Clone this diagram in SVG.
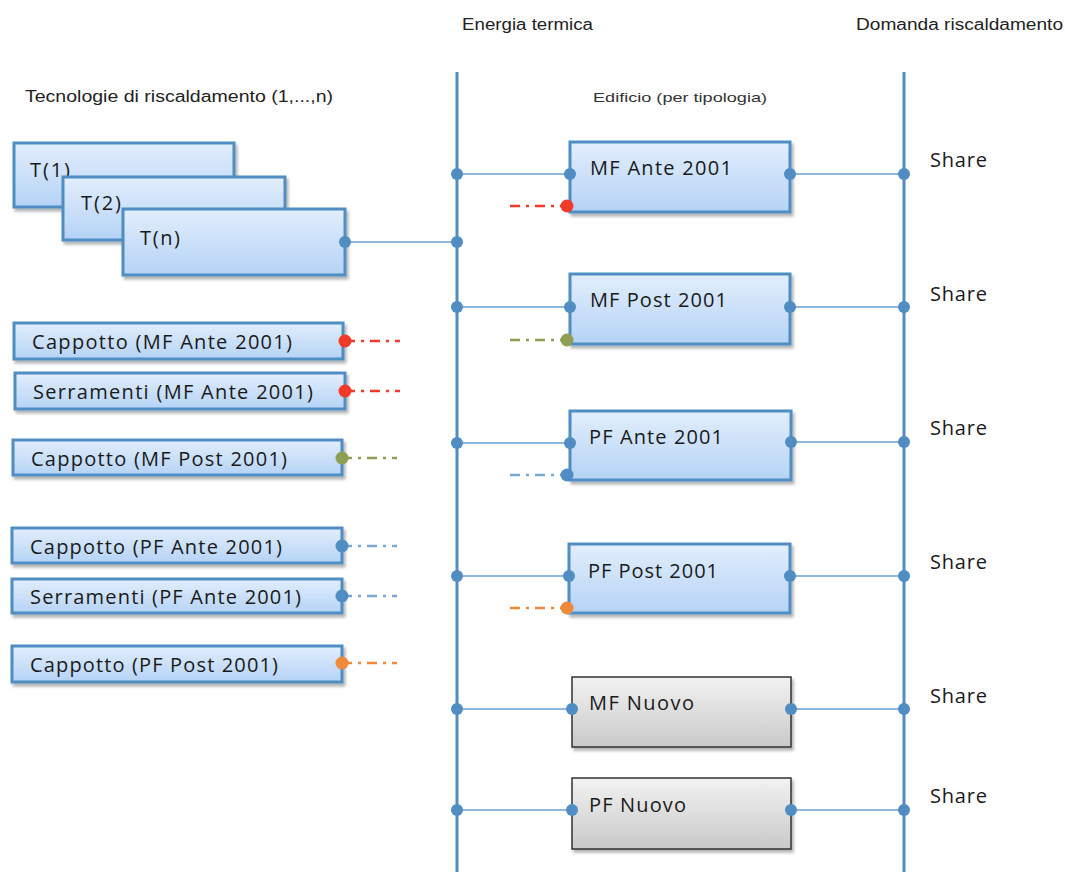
<svg xmlns="http://www.w3.org/2000/svg" width="1065" height="872" viewBox="0 0 1065 872">
<defs>
<linearGradient id="gb" x1="0" y1="0" x2="0" y2="1"><stop offset="0" stop-color="#e2eefc"/><stop offset="1" stop-color="#b5d3f6"/></linearGradient>
<linearGradient id="gg" x1="0" y1="0" x2="0" y2="1"><stop offset="0" stop-color="#f2f2f2"/><stop offset="1" stop-color="#c9c9c9"/></linearGradient>
<filter id="sh" x="-5%" y="-10%" width="115%" height="130%"><feDropShadow dx="2" dy="3" stdDeviation="1.5" flood-color="#000" flood-opacity="0.3"/></filter>
</defs>
<style>
.bx{fill:url(#gb);stroke:#4f8dc2;stroke-width:3;filter:url(#sh)}
.gx{fill:url(#gg);stroke:#333;stroke-width:1.5;filter:url(#sh)}
.t{font-family:"Open Sans","Liberation Sans",sans-serif;font-size:20px;fill:#1a1a1a}
.h{font-family:"Liberation Sans",sans-serif;font-size:16px;fill:#222}
.hs{font-family:"Liberation Sans",sans-serif;font-size:13px;fill:#333}
.bus{stroke:#4f8dc2;stroke-width:3;fill:none}
.ln{stroke:#8fb7db;stroke-width:2;fill:none}
.p{fill:#4f8dc2}
.dd{stroke-width:2.5;fill:none;stroke-dasharray:10 6 3 6}
</style>
<g id="labels">
<text class="h" x="462" y="30" textLength="131" lengthAdjust="spacingAndGlyphs">Energia termica</text>
<text class="h" x="856" y="30" textLength="207" lengthAdjust="spacingAndGlyphs">Domanda riscaldamento</text>
<text class="h" x="25" y="102" textLength="308" lengthAdjust="spacingAndGlyphs">Tecnologie di riscaldamento (1,...,n)</text>
<text class="hs" x="593" y="102" textLength="174" lengthAdjust="spacingAndGlyphs">Edificio (per tipologia)</text>
</g>
<g id="connectors">
<line class="bus" x1="457" y1="72" x2="457" y2="872"/>
<line class="bus" x1="904" y1="72" x2="904" y2="872"/>
<line class="ln" x1="345" y1="242" x2="457" y2="242"/>
<line class="ln" x1="457" y1="174" x2="570" y2="174"/><line class="ln" x1="790" y1="174" x2="904" y2="174"/>
<line class="ln" x1="457" y1="307" x2="570" y2="307"/><line class="ln" x1="790" y1="307" x2="904" y2="307"/>
<line class="ln" x1="457" y1="443" x2="570" y2="443"/><line class="ln" x1="790" y1="442" x2="904" y2="442"/>
<line class="ln" x1="457" y1="576" x2="570" y2="576"/><line class="ln" x1="790" y1="576" x2="904" y2="576"/>
<line class="ln" x1="457" y1="709" x2="572" y2="709"/><line class="ln" x1="791" y1="709" x2="904" y2="709"/>
<line class="ln" x1="457" y1="810" x2="572" y2="810"/><line class="ln" x1="791" y1="810" x2="904" y2="810"/>
<line class="dd" stroke="#f03a2a" x1="510" y1="206" x2="567" y2="206"/>
<line class="dd" stroke="#8e9e55" x1="510" y1="340" x2="567" y2="340"/>
<line class="dd" stroke="#7aa7d3" x1="510" y1="475" x2="567" y2="475"/>
<line class="dd" stroke="#ef8a3a" x1="510" y1="608" x2="567" y2="608"/>
<line class="dd" stroke="#f03a2a" x1="345" y1="341" x2="400" y2="341"/>
<line class="dd" stroke="#f03a2a" x1="345" y1="391" x2="400" y2="391"/>
<line class="dd" stroke="#8e9e55" x1="342" y1="458" x2="397" y2="458"/>
<line class="dd" stroke="#7aa7d3" x1="342" y1="546" x2="397" y2="546"/>
<line class="dd" stroke="#7aa7d3" x1="342" y1="596" x2="397" y2="596"/>
<line class="dd" stroke="#ef8a3a" x1="342" y1="663" x2="397" y2="663"/>
<g class="p">
<circle cx="457" cy="242" r="6"/>
<circle cx="457" cy="174" r="6"/><circle cx="457" cy="307" r="6"/><circle cx="457" cy="443" r="6"/><circle cx="457" cy="576" r="6"/><circle cx="457" cy="709" r="6"/><circle cx="457" cy="810" r="6"/>
<circle cx="904" cy="174" r="6"/><circle cx="904" cy="307" r="6"/><circle cx="904" cy="442" r="6"/><circle cx="904" cy="576" r="6"/><circle cx="904" cy="709" r="6"/><circle cx="904" cy="810" r="6"/>
</g>
</g>
<g id="T1"><rect class="bx" x="14" y="143" width="220" height="64"/><text class="t" x="30" y="177" textLength="40">T(1)</text></g>
<g id="T2"><rect class="bx" x="63" y="177" width="222" height="63"/><text class="t" x="81" y="210" textLength="40">T(2)</text></g>
<g id="Tn"><rect class="bx" x="123" y="209" width="222" height="66"/><text class="t" x="140" y="245" textLength="40">T(n)</text><circle class="p" cx="345" cy="242" r="6"/></g>
<g id="cap-mf-ante"><rect class="bx" x="14" y="323" width="329" height="36"/><text class="t" x="32" y="349" textLength="260">Cappotto (MF Ante 2001)</text><circle cx="345" cy="341" r="6.5" fill="#f03a2a"/></g>
<g id="ser-mf-ante"><rect class="bx" x="15" y="373" width="330" height="36"/><text class="t" x="33" y="399" textLength="280">Serramenti  (MF Ante 2001)</text><circle cx="345" cy="391" r="6.5" fill="#f03a2a"/></g>
<g id="cap-mf-post"><rect class="bx" x="13" y="440" width="329" height="35"/><text class="t" x="31" y="466" textLength="256">Cappotto (MF Post 2001)</text><circle cx="342" cy="458" r="6.5" fill="#8e9e55"/></g>
<g id="cap-pf-ante"><rect class="bx" x="12" y="528" width="330" height="35"/><text class="t" x="30" y="554" textLength="252">Cappotto (PF Ante 2001)</text><circle cx="342" cy="546" r="6.5" fill="#4f8dc2"/></g>
<g id="ser-pf-ante"><rect class="bx" x="12" y="579" width="330" height="34"/><text class="t" x="30" y="604" textLength="271">Serramenti  (PF Ante 2001)</text><circle cx="342" cy="596" r="6.5" fill="#4f8dc2"/></g>
<g id="cap-pf-post"><rect class="bx" x="12" y="646" width="330" height="36"/><text class="t" x="30" y="672" textLength="248">Cappotto (PF Post 2001)</text><circle cx="342" cy="663" r="6.5" fill="#ef8a3a"/></g>
<g id="mf-ante"><rect class="bx" x="570" y="142" width="220" height="70"/><text class="t" x="590" y="175" textLength="142">MF Ante 2001</text><circle class="p" cx="570" cy="174" r="6"/><circle class="p" cx="790" cy="174" r="6"/><circle cx="567" cy="206" r="6.5" fill="#f03a2a"/></g>
<g id="mf-post"><rect class="bx" x="570" y="274" width="220" height="70"/><text class="t" x="590" y="307" textLength="137">MF Post 2001</text><circle class="p" cx="570" cy="307" r="6"/><circle class="p" cx="790" cy="307" r="6"/><circle cx="567" cy="340" r="6.5" fill="#8e9e55"/></g>
<g id="pf-ante"><rect class="bx" x="570" y="411" width="221" height="69"/><text class="t" x="589" y="444" textLength="134">PF Ante 2001</text><circle class="p" cx="570" cy="443" r="6"/><circle class="p" cx="791" cy="442" r="6"/><circle cx="567" cy="475" r="6.5" fill="#4f8dc2"/></g>
<g id="pf-post"><rect class="bx" x="569" y="544" width="221" height="69"/><text class="t" x="588" y="578" textLength="130">PF Post 2001</text><circle class="p" cx="569" cy="576" r="6"/><circle class="p" cx="790" cy="576" r="6"/><circle cx="567" cy="608" r="6.5" fill="#ef8a3a"/></g>
<g id="mf-nuovo"><rect class="gx" x="572" y="677" width="219" height="70"/><text class="t" x="589" y="710" textLength="105">MF Nuovo</text><circle class="p" cx="572" cy="709" r="6"/><circle class="p" cx="791" cy="709" r="6"/></g>
<g id="pf-nuovo"><rect class="gx" x="572" y="778" width="219" height="71"/><text class="t" x="589" y="812" textLength="97">PF Nuovo</text><circle class="p" cx="572" cy="810" r="6"/><circle class="p" cx="791" cy="810" r="6"/></g>
<g id="shares">
<text class="t" x="930" y="167" textLength="57">Share</text>
<text class="t" x="930" y="301" textLength="57">Share</text>
<text class="t" x="930" y="435" textLength="57">Share</text>
<text class="t" x="930" y="569" textLength="57">Share</text>
<text class="t" x="930" y="703" textLength="57">Share</text>
<text class="t" x="930" y="803" textLength="57">Share</text>
</g>
</svg>
